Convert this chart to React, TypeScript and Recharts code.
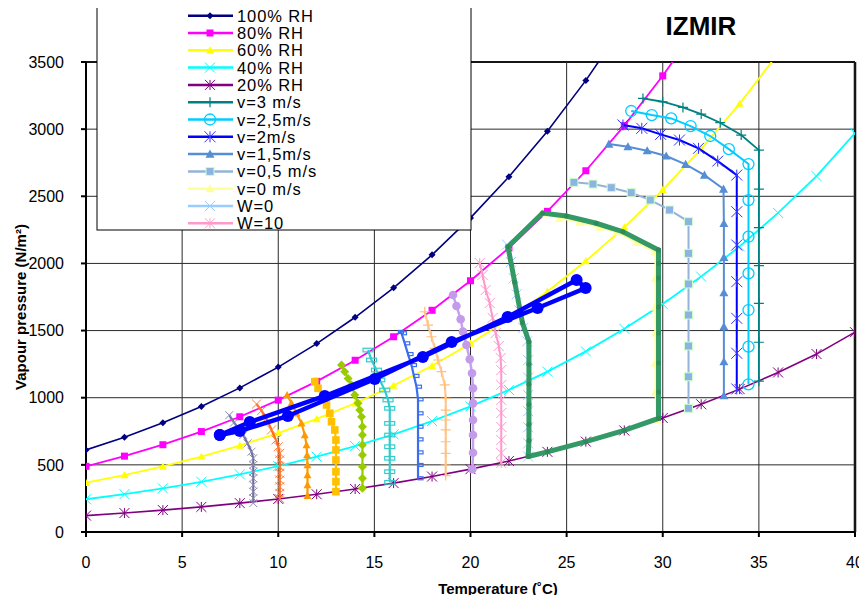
import { ScatterChart, Scatter, XAxis, YAxis, CartesianGrid } from 'recharts';

// relative humidity curves (temperature every 2 degrees)
const rhTemps = [0, 2, 4, 6, 8, 10, 12, 14, 16, 18, 20, 22, 24, 26, 28, 30, 32, 34, 36, 38, 40];
const rh100 = [611, 706, 813, 935, 1073, 1228, 1403, 1599, 1818, 2064, 2339, 2645, 2985, 3363, 3782];
const rh80 = [489, 565, 650, 748, 858, 982, 1122, 1279, 1454, 1651, 1871, 2116, 2388, 2690, 3026, 3397, 3804];
const rh60 = [367, 424, 488, 561, 644, 737, 842, 959, 1091, 1238, 1403, 1587, 1791, 2018, 2269, 2548, 2853, 3190, 3563];
const rh40 = [244, 282, 325, 374, 429, 491, 561, 640, 727, 826, 936, 1058, 1194, 1345, 1513, 1698, 1902, 2127, 2376, 2650, 2970];
const rh20 = [122, 141, 163, 187, 215, 246, 281, 320, 364, 413, 468, 529, 597, 673, 756, 849, 951, 1064, 1188, 1325, 1488];

// air velocity lines
const v3T = [28.97, 30.0, 31.05, 32.0, 32.99, 34.08, 35.0, 35.0, 35.0, 35.0, 35.0, 35.0, 35.0];
const v3P = [3229, 3204, 3162, 3112, 3048, 2956, 2844, 2554, 2266, 1983, 1703, 1413, 1124];
const v25T = [28.36, 29.43, 30.44, 31.45, 32.47, 33.44, 34.46, 34.46, 34.46, 34.46, 34.46, 34.46, 34.46];
const v25P = [3135, 3105, 3080, 3023, 2949, 2851, 2740, 2472, 2199, 1926, 1653, 1380, 1100];
const v2T = [27.93, 28.91, 29.89, 30.87, 31.86, 32.86, 33.85, 33.85, 33.85, 33.85, 33.85, 33.85, 33.85];
const v2P = [3031, 3006, 2961, 2919, 2857, 2762, 2658, 2385, 2137, 1864, 1591, 1331, 1065];
const v15T = [27.2, 28.19, 29.19, 30.18, 31.19, 32.17, 33.16, 33.18, 33.18, 33.18, 33.18, 33.18, 33.18];
const v15P = [2889, 2869, 2839, 2800, 2738, 2658, 2554, 2298, 2045, 1782, 1529, 1268, 1015];
const v05T = [25.38, 26.37, 27.32, 28.36, 29.35, 30.35, 31.34, 31.34, 31.34, 31.34, 31.34, 31.34, 31.34];
const v05P = [2604, 2591, 2564, 2527, 2472, 2398, 2311, 2075, 1847, 1616, 1385, 1156, 921];
const v0T = [23.75, 24.64, 25.68, 26.72, 27.6, 28.64, 29.62, 29.62, 29.62, 29.62, 29.62, 29.62, 29.7];
const v0P = [2375, 2338, 2308, 2271, 2234, 2159, 2085, 1891, 1675, 1482, 1258, 1042, 834];
const w0T = [21.9, 22.1, 22.25, 22.4, 22.55, 22.75, 22.95, 23.0, 23.0, 23.0, 23.0, 23.0, 23.0, 23.0];
const w0P = [2140, 2010, 1890, 1770, 1650, 1520, 1420, 1280, 1150, 1020, 900, 780, 660, 562];
const w10T = [20.48, 20.63, 20.79, 21.0, 21.15, 21.31, 21.47, 21.57, 21.6, 21.6, 21.6, 21.6, 21.6, 21.6, 21.6, 21.6];
const w10P = [2003, 1914, 1802, 1705, 1594, 1482, 1385, 1296, 1206, 1095, 983, 886, 782, 685, 588, 514];

// unlabelled curves
const grayT = [7.45, 7.7, 7.95, 8.18, 8.4, 8.61, 8.7, 8.7, 8.7, 8.7, 8.7, 8.7, 8.7, 8.7];
const grayP = [870, 815, 770, 722, 660, 598, 549, 499, 449, 400, 350, 300, 251, 215];
const redT = [8.87, 9.13, 9.39, 9.65, 9.88, 10.0, 10.08, 10.08, 10.08, 10.08, 10.08, 10.08, 10.08, 10.08];
const redP = [953, 904, 847, 760, 685, 635, 586, 536, 487, 437, 387, 338, 288, 248];
const orangeT = [10.46, 10.69, 10.95, 11.21, 11.38, 11.47, 11.5, 11.52, 11.52, 11.52, 11.52];
const orangeP = [1020, 958, 884, 809, 722, 648, 573, 499, 424, 350, 270];
const goldT = [11.9, 12.07, 12.33, 12.51, 12.68, 12.77, 12.94, 13.0, 13.0, 13.0, 13.0, 13.0, 13.0];
const goldP = [1119, 1070, 995, 946, 884, 821, 760, 685, 611, 536, 449, 375, 300];
const limeT = [13.29, 13.46, 13.63, 13.81, 13.98, 14.15, 14.24, 14.33, 14.38, 14.38, 14.38, 14.38, 14.38, 14.38, 14.38];
const limeP = [1243, 1194, 1144, 1095, 1020, 958, 908, 858, 784, 722, 648, 573, 486, 400, 325];
const turqT = [14.67, 14.85, 15.11, 15.28, 15.54, 15.71, 15.8, 15.8, 15.8, 15.8, 15.8, 15.8, 15.8];
const turqP = [1355, 1281, 1206, 1132, 1057, 983, 921, 809, 722, 635, 549, 449, 370];
const royalT = [16.25, 16.41, 16.58, 16.75, 16.93, 17.06, 17.19, 17.27, 17.27, 17.27, 17.27, 17.27, 17.27, 17.27];
const royalP = [1490, 1480, 1405, 1325, 1243, 1162, 1082, 988, 884, 784, 690, 593, 499, 400];
const peachT = [17.62, 17.79, 17.97, 18.14, 18.31, 18.49, 18.66, 18.71, 18.71, 18.71, 18.71, 18.71, 18.71, 18.71, 18.71];
const peachP = [1640, 1541, 1454, 1368, 1281, 1194, 1095, 995, 908, 834, 760, 672, 586, 499, 420];
const lilacT = [19.09, 19.27, 19.49, 19.61, 19.79, 19.96, 20.08, 20.13, 20.13, 20.13, 20.13, 20.13, 20.1];
const lilacP = [1765, 1683, 1584, 1492, 1392, 1286, 1182, 1070, 958, 834, 722, 590, 467];

// comfort zone outline
const zoneT = [23.0, 24.0, 26.0, 28.0, 29.78, 29.78, 29.78, 29.78, 29.78, 29.78, 29.78, 29.78, 29.78, 27.93, 26.54, 24.98, 23.75, 21.95, 22.3, 22.7, 23.04, 23.04, 23.04, 23.04, 23.04, 23.04, 23.0];
const zoneP = [562, 597, 673, 756, 846, 1042, 1258, 1482, 1675, 1891, 2000, 2100, 2100, 2236, 2299, 2353, 2375, 2124, 1860, 1560, 1417, 1250, 1100, 950, 800, 680, 562];

// monthly climate loop
const climT = [6.96, 8.0, 10.5, 15.02, 19.02, 23.49, 25.99, 25.52, 21.93, 17.52, 12.42, 8.52, 6.96];
const climP = [722, 752, 864, 1139, 1415, 1668, 1817, 1876, 1601, 1303, 1013, 819, 722];

const xTicks = [0, 5, 10, 15, 20, 25, 30, 35, 40];
const yTicks = [0, 500, 1000, 1500, 2000, 2500, 3000, 3500];
const X_MAX = 40;
const Y_MAX = 3500;

const W = 867;
const H = 603;
const MARGIN = { top: 62, right: 12, bottom: 0, left: 0 };

const zip = (t: number[], p: number[]) => p.map((v, i) => ({ t: t[i], p: v }));
const FONT = '"Liberation Sans", Arial, sans-serif';

type Kind = 'diamond' | 'square' | 'triangle' | 'x' | 'star' | 'plus' | 'circle' | 'dot' | 'box' | 'dash';

function Mark({ kind, cx, cy, c, fill, r = 4 }: { kind: Kind; cx: number; cy: number; c: string; fill?: string; r?: number }) {
  if (cx == null || cy == null) return <g />;
  switch (kind) {
    case 'diamond':
      return <path d={`M${cx},${cy - r}L${cx + r},${cy}L${cx},${cy + r}L${cx - r},${cy}Z`} fill={c} />;
    case 'square':
      return <rect x={cx - r} y={cy - r} width={2 * r} height={2 * r} fill={fill ?? c} stroke={fill ? c : 'none'} strokeWidth={1} />;
    case 'triangle':
      return <path d={`M${cx},${cy - r}L${cx + r},${cy + r * 0.8}L${cx - r},${cy + r * 0.8}Z`} fill={c} />;
    case 'x':
      return <path d={`M${cx - r},${cy - r}L${cx + r},${cy + r}M${cx - r},${cy + r}L${cx + r},${cy - r}`} stroke={c} strokeWidth={1} fill="none" />;
    case 'star':
      return <path d={`M${cx - r},${cy - r}L${cx + r},${cy + r}M${cx - r},${cy + r}L${cx + r},${cy - r}M${cx},${cy - r}L${cx},${cy + r}`} stroke={c} strokeWidth={1} fill="none" />;
    case 'plus':
      return <path d={`M${cx - r},${cy}L${cx + r},${cy}M${cx},${cy - r}L${cx},${cy + r}`} stroke={c} strokeWidth={1.2} fill="none" />;
    case 'circle':
      return <circle cx={cx} cy={cy} r={r} fill="none" stroke={c} strokeWidth={1.3} />;
    case 'dot':
      return <circle cx={cx} cy={cy} r={r} fill={c} />;
    case 'box':
      return <rect x={cx - r} y={cy - 1.8} width={2 * r} height={3.6} fill="none" stroke={c} strokeWidth={1.2} />;
    case 'dash':
      return <rect x={cx} y={cy - 1.5} width={r} height={3} fill="none" stroke={c} strokeWidth={1.2} />;
    default:
      return <g />;
  }
}

type Series = { name: string; data: { t: number; p: number }[]; line: string; width: number; kind: Kind; mc: string; fill?: string; r?: number; legend?: boolean };

const mk = (name: string, t: number[], p: number[], line: string, width: number, kind: Kind, mc: string, r: number, fill?: string, legend = true): Series => ({
  name, data: zip(t, p), line, width, kind, mc, r, fill, legend,
});

const series: Series[] = [
  mk('100% RH', rhTemps, rh100, '#000080', 1.6, 'diamond', '#000080', 3.5),
  mk('80% RH', rhTemps, rh80, '#FF00FF', 1.8, 'square', '#FF00FF', 3.5),
  mk('60% RH', rhTemps, rh60, '#FFFF00', 1.8, 'triangle', '#FFFF00', 4),
  mk('40% RH', rhTemps, rh40, '#00FFFF', 1.8, 'x', '#00FFFF', 5),
  mk('20% RH', rhTemps, rh20, '#800080', 1.6, 'star', '#800080', 5),
  mk('v=3 m/s', v3T, v3P, '#008080', 1.8, 'plus', '#008080', 5),
  mk('v=2,5m/s', v25T, v25P, '#00CCFF', 2, 'circle', '#00CCFF', 5.5),
  mk('v=2m/s', v2T, v2P, '#0000FF', 2, 'star', '#3333FF', 5.5),
  mk('v=1,5m/s', v15T, v15P, '#558ED5', 2, 'triangle', '#558ED5', 4.5),
  mk('v=0,5 m/s', v05T, v05P, '#95B3D7', 2, 'square', '#CCFFCC', 4, '#8DB3E2'),
  mk('v=0 m/s', v0T, v0P, '#FFFF99', 2, 'triangle', '#FFFF99', 4.5),
  mk('W=0', w0T, w0P, '#99CCFF', 2, 'x', '#99CCFF', 5),
  mk('W=10', w10T, w10P, '#FF99CC', 2, 'star', '#FF99CC', 5),
  mk('gray', grayT, grayP, '#70709A', 2.2, 'x', '#8C8CB8', 4, undefined, false),
  mk('red', redT, redP, '#FF6A13', 2.2, 'x', '#FF8040', 4.5, undefined, false),
  mk('orange', orangeT, orangeP, '#FF9900', 2.2, 'triangle', '#FF9900', 4, undefined, false),
  mk('gold', goldT, goldP, '#FFC000', 2.2, 'square', '#FFC000', 3.8, undefined, false),
  mk('lime', limeT, limeP, '#99CC00', 2.2, 'diamond', '#99CC00', 4.5, undefined, false),
  mk('turq', turqT, turqP, '#33CCCC', 2.2, 'box', '#33CCCC', 5, undefined, false),
  mk('royal', royalT, royalP, '#3A6FF0', 2.2, 'dash', '#3A6FF0', 5, undefined, false),
  mk('peach', peachT, peachP, '#FFCC99', 2.2, 'plus', '#FFC080', 5, undefined, false),
  mk('lilac', lilacT, lilacP, '#C9A0F0', 2.5, 'dot', '#C29BEB', 4.3, undefined, false),
  mk('zone', zoneT, zoneP, '#339966', 5, 'dot', '#2E8B57', 2.5, undefined, false),
  mk('climate', climT, climP, '#0000FF', 4.5, 'dot', '#0000FF', 6, undefined, false),
];

const frameTop = [{ t: 0, p: Y_MAX }, { t: X_MAX, p: Y_MAX }];
const frameRight = [{ t: X_MAX, p: 0 }, { t: X_MAX, p: Y_MAX }];

const legendItems = series.filter((s) => s.legend);

// grid and frame sit in their own chart underneath the series
function GridLayer() {
  return (
    <ScatterChart width={W} height={H} margin={MARGIN}>
      <CartesianGrid stroke="#2a2a2a" strokeWidth={1} />
      <XAxis type="number" dataKey="t" domain={[0, X_MAX]} ticks={xTicks} height={71} tick={false} axisLine={false} tickLine={false} />
      <YAxis type="number" dataKey="p" domain={[0, Y_MAX]} ticks={yTicks} width={86} tick={false} axisLine={false} tickLine={false} />
      <Scatter data={frameTop} line={{ stroke: '#000', strokeWidth: 2 }} lineType="joint" isAnimationActive={false} shape={() => <g />} />
      <Scatter data={frameRight} line={{ stroke: '#000', strokeWidth: 2.5 }} lineType="joint" isAnimationActive={false} shape={() => <g />} />
    </ScatterChart>
  );
}

function Overlay() {
  return (
    <svg width={W} height={H} style={{ position: 'absolute', left: 0, top: 0, pointerEvents: 'none' }}>
      <g transform="translate(96,-8)">
        <rect x={1} y={0} width={374} height={238} fill="#fff" stroke="#000" strokeWidth={1} />
        {legendItems.map((s, i) => {
          const y = 23.7 + 17.3 * i;
          return (
            <g key={s.name}>
              <line x1={92} x2={137} y1={y} y2={y} stroke={s.line} strokeWidth={2.5} />
              <Mark kind={s.kind} cx={114} cy={y} c={s.mc} fill={s.fill} r={s.r} />
              <text x={141} y={y + 6} fontSize={16.5} fontFamily={FONT} letterSpacing={0.9} fill="#000">
                {s.name}
              </text>
            </g>
          );
        })}
      </g>
      <text x={701} y={35} textAnchor="middle" fontSize={26} fontWeight="bold" fontFamily={FONT} fill="#000">
        IZMIR
      </text>
      <text x={498} y={594} textAnchor="middle" fontSize={15} fontWeight="bold" fontFamily={FONT} fill="#000">
        Temperature (˚C)
      </text>
      <text x={26} y={307} transform="rotate(-90 26 307)" textAnchor="middle" fontSize={15} fontWeight="bold" fontFamily={FONT} fill="#000">
        Vapour pressure (N/m²)
      </text>
    </svg>
  );
}

export default function App() {
  return (
    <div style={{ position: 'relative', width: W, height: H, margin: -8, background: '#fff' }}>
      <div style={{ position: 'absolute', left: 0, top: 0 }}>
        <GridLayer />
      </div>
      <div style={{ position: 'absolute', left: 0, top: 0 }}>
        <ScatterChart width={W} height={H} margin={MARGIN}>
          <CartesianGrid stroke="#2a2a2a" strokeWidth={1} />
          <XAxis
            type="number"
            dataKey="t"
            domain={[0, X_MAX]}
            ticks={xTicks}
            allowDataOverflow
            height={71}
            tickSize={5}
            tickMargin={20}
            stroke="#000"
            strokeWidth={2}
            tick={{ fill: '#000', fontSize: 16, fontFamily: FONT }}
          />
          <YAxis
            type="number"
            dataKey="p"
            domain={[0, Y_MAX]}
            ticks={yTicks}
            allowDataOverflow
            width={86}
            tickSize={5}
            tickMargin={17}
            stroke="#000"
            strokeWidth={2}
            tick={{ fill: '#000', fontSize: 16, fontFamily: FONT }}
          />
          {series.map((s) => (
            <Scatter
              key={s.name}
              name={s.name}
              data={s.data}
              line={{ stroke: s.line, strokeWidth: s.width }}
              lineType="joint"
              isAnimationActive={false}
              shape={(p: any) => <Mark kind={s.kind} cx={p.cx} cy={p.cy} c={s.mc} fill={s.fill} r={s.r} />}
            />
          ))}
        </ScatterChart>
      </div>
      <Overlay />
    </div>
  );
}
